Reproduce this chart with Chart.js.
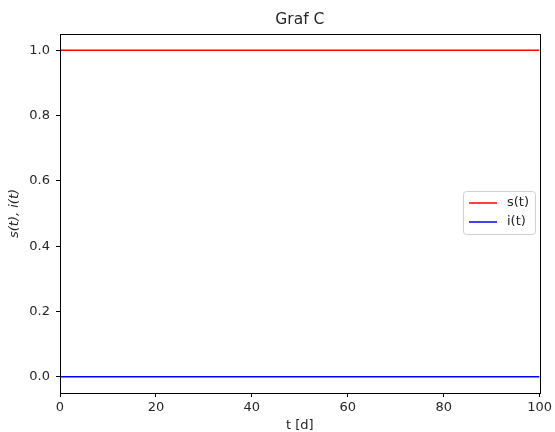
<!DOCTYPE html>
<html>
<head>
<meta charset="utf-8">
<script src="https://cdn.jsdelivr.net/npm/chart.js@4.4.1/dist/chart.umd.min.js"></script>
<style>
  html, body { margin: 0; padding: 0; background: #fff; }
  #wrap { width: 555px; height: 432px; }
</style>
</head>
<body>
<div id="wrap"><canvas id="graf"></canvas></div>
<script>
// time in days, and the two fractions s(t) and i(t)
const tDays = [0, 10, 20, 30, 40, 50, 60, 70, 80, 90, 100];
const sVals = [1.0, 1.0, 1.0, 1.0, 1.0, 1.0, 1.0, 1.0, 1.0, 1.0, 1.0];
const iVals = [0.0, 0.0, 0.0, 0.0, 0.0, 0.0, 0.0, 0.0, 0.0, 0.0, 0.0];

const xTicks = [0, 20, 40, 60, 80, 100];
const yTicks = [0.0, 0.2, 0.4, 0.6, 0.8, 1.0];

const FONT = 'DejaVu Sans';
const TEXT = '#262626';

function points(xs, ys) {
    return xs.map((x, k) => ({ x: x, y: ys[k] }));
}

// frame around the plot + legend box on the right
const frameAndLegend = {
    id: 'frameAndLegend',
    afterDraw(chart) {
        const ctx = chart.ctx;
        const a = chart.chartArea;
        ctx.save();
        ctx.strokeStyle = '#000';
        ctx.lineWidth = 1;
        ctx.strokeRect(Math.round(a.left) + 0.5, Math.round(a.top) + 0.5,
            Math.round(a.right - a.left), Math.round(a.bottom - a.top));

        // legend
        const bx = 463, by = 191, bw = 72, bh = 43;
        ctx.fillStyle = 'rgba(255,255,255,0.8)';
        ctx.strokeStyle = '#d0d0d0';
        ctx.beginPath();
        ctx.roundRect(bx + 0.5, by + 0.5, bw, bh, 3);
        ctx.fill();
        ctx.stroke();
        ctx.font = '13px ' + FONT;
        ctx.textBaseline = 'middle';
        chart.data.datasets.forEach((ds, k) => {
            const y = by + 12 + k * 19;
            ctx.strokeStyle = ds.borderColor;
            ctx.lineWidth = 1.5;
            ctx.beginPath();
            ctx.moveTo(bx + 6, y);
            ctx.lineTo(bx + 34, y);
            ctx.stroke();
            ctx.fillStyle = TEXT;
            ctx.fillText(ds.label, bx + 44, y);
        });
        ctx.restore();
    }
};

const ctx = document.getElementById('graf').getContext('2d');
const chart = new Chart(ctx, {
    type: 'line',
    data: {
        datasets: [
            { label: 's(t)', data: points(tDays, sVals), borderColor: '#ff0000', borderWidth: 1.5, pointRadius: 0, tension: 0 },
            { label: 'i(t)', data: points(tDays, iVals), borderColor: '#0000ff', borderWidth: 1.5, pointRadius: 0, tension: 0 }
        ]
    },
    options: {
        responsive: true,
        maintainAspectRatio: false,
        animation: false,
        layout: { padding: { left: 0, right: 14, top: 0, bottom: 0 } },
        plugins: {
            legend: { display: false },
            tooltip: { enabled: false },
            title: {
                display: true,
                fullSize: false,
                text: 'Graf C',
                color: TEXT,
                font: { family: FONT, size: 15.5, weight: 'normal' },
                padding: { top: 11, bottom: 4.4 }
            }
        },
        scales: {
            x: {
                type: 'linear',
                min: 0,
                max: 100,
                afterBuildTicks: (scale) => { scale.ticks = xTicks.map(v => ({ value: v })); },
                afterFit: (scale) => { scale.height = 39; },
                grid: { drawOnChartArea: false, tickLength: 4, tickColor: '#000', tickWidth: 1 },
                border: { color: '#000' },
                ticks: {
                    color: TEXT,
                    font: { family: FONT, size: 13 },
                    padding: 3,
                    maxRotation: 0,
                    callback: (v) => String(v)
                },
                title: {
                    display: true,
                    text: 't [d]',
                    color: TEXT,
                    font: { family: FONT, size: 13, lineHeight: 1 },
                    padding: { top: 0, bottom: 0 }
                }
            },
            y: {
                min: -0.05,
                max: 1.05,
                afterBuildTicks: (scale) => { scale.ticks = yTicks.map(v => ({ value: v })); },
                afterFit: (scale) => { scale.width = 60; },
                grid: { drawOnChartArea: false, tickLength: 4, tickColor: '#000', tickWidth: 1 },
                border: { color: '#000' },
                ticks: {
                    color: TEXT,
                    font: { family: FONT, size: 13 },
                    padding: 6,
                    callback: (v) => Number(v).toFixed(1)
                },
                title: {
                    display: true,
                    text: 's(t), i(t)',
                    color: TEXT,
                    font: { family: FONT, size: 13, style: 'italic' },
                    padding: { top: 7, bottom: 0 }
                }
            }
        }
    },
    plugins: [frameAndLegend]
});
</script>
</body>
</html>
